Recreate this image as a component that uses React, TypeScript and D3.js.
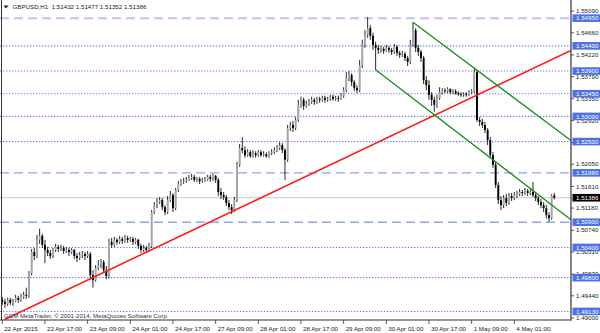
import React from "react";
import * as d3 from "d3";

// ---- data (GBPUSD H1, bar 0 = 22 Apr 2015 01:00) ----
const firstOpen = 1.4936;
const closes = [
  1.4932, 1.4928, 1.4936, 1.4930, 1.4934, 1.4940, 1.4936, 1.4942, 1.4946, 1.4944,
  1.4989, 1.5031, 1.5023, 1.5055, 1.5063, 1.5045, 1.5035, 1.5029, 1.5023, 1.5035,
  1.5041, 1.5037, 1.5039, 1.5033, 1.5035, 1.5031, 1.5035, 1.5023, 1.5019, 1.5025,
  1.5027, 1.5023, 1.5027, 1.4985, 1.4975, 1.4999, 1.5005, 1.5011, 1.4995, 1.4983,
  1.5051, 1.5045, 1.5055, 1.5051, 1.5057, 1.5053, 1.5059, 1.5055, 1.5057, 1.5051,
  1.5055, 1.5043, 1.5035, 1.5039, 1.5035, 1.5043, 1.5110, 1.5124, 1.5130, 1.5134,
  1.5120, 1.5110, 1.5134, 1.5144, 1.5118, 1.5154, 1.5166, 1.5170, 1.5172, 1.5174,
  1.5178, 1.5180, 1.5174, 1.5176, 1.5172, 1.5174, 1.5174, 1.5180, 1.5176, 1.5182,
  1.5174, 1.5150, 1.5144, 1.5140, 1.5128, 1.5120, 1.5114, 1.5134, 1.5204, 1.5237,
  1.5233, 1.5223, 1.5229, 1.5221, 1.5227, 1.5223, 1.5229, 1.5223, 1.5225, 1.5221,
  1.5227, 1.5229, 1.5233, 1.5237, 1.5243, 1.5233, 1.5214, 1.5277, 1.5283, 1.5277,
  1.5293, 1.5323, 1.5333, 1.5321, 1.5325, 1.5329, 1.5333, 1.5329, 1.5335, 1.5333,
  1.5337, 1.5333, 1.5335, 1.5339, 1.5335, 1.5337, 1.5335, 1.5341, 1.5352, 1.5376,
  1.5382, 1.5368, 1.5356, 1.5352, 1.5402, 1.5442, 1.5462, 1.5475, 1.5460, 1.5442,
  1.5436, 1.5432, 1.5434, 1.5430, 1.5436, 1.5432, 1.5428, 1.5438, 1.5426, 1.5422,
  1.5424, 1.5416, 1.5408, 1.5442, 1.5471, 1.5436, 1.5428, 1.5416, 1.5372, 1.5362,
  1.5343, 1.5333, 1.5323, 1.5337, 1.5348, 1.5352, 1.5350, 1.5354, 1.5348, 1.5350,
  1.5346, 1.5344, 1.5343, 1.5344, 1.5343, 1.5348, 1.5350, 1.5388, 1.5293, 1.5289,
  1.5283, 1.5273, 1.5253, 1.5223, 1.5204, 1.5164, 1.5134, 1.5124, 1.5138, 1.5128,
  1.5142, 1.5138, 1.5144, 1.5146, 1.5150, 1.5148, 1.5152, 1.5148, 1.5150, 1.5144,
  1.5138, 1.5130, 1.5124, 1.5118, 1.5104, 1.5098, 1.51432, 1.51386,
];
const highs = [
  1.4942, 1.4938, 1.4940, 1.4940, 1.4938, 1.4946, 1.4944, 1.4948, 1.4952, 1.4960,
  1.4993, 1.5037, 1.5039, 1.5065, 1.5077, 1.5067, 1.5055, 1.5041, 1.5035, 1.5039,
  1.5047, 1.5045, 1.5045, 1.5043, 1.5041, 1.5039, 1.5039, 1.5037, 1.5029, 1.5031,
  1.5033, 1.5031, 1.5033, 1.5031, 1.4995, 1.5005, 1.5015, 1.5017, 1.5015, 1.5003,
  1.5057, 1.5059, 1.5061, 1.5059, 1.5063, 1.5061, 1.5065, 1.5063, 1.5061, 1.5061,
  1.5059, 1.5057, 1.5047, 1.5045, 1.5043, 1.5049, 1.5114, 1.5130, 1.5138, 1.5140,
  1.5138, 1.5124, 1.5142, 1.5152, 1.5148, 1.5158, 1.5172, 1.5176, 1.5178, 1.5180,
  1.5184, 1.5186, 1.5184, 1.5180, 1.5180, 1.5178, 1.5180, 1.5184, 1.5184, 1.5186,
  1.5184, 1.5178, 1.5158, 1.5150, 1.5144, 1.5134, 1.5126, 1.5140, 1.5210, 1.5245,
  1.5259, 1.5241, 1.5235, 1.5233, 1.5233, 1.5231, 1.5233, 1.5233, 1.5231, 1.5229,
  1.5231, 1.5235, 1.5239, 1.5243, 1.5249, 1.5247, 1.5237, 1.5283, 1.5289, 1.5291,
  1.5299, 1.5333, 1.5339, 1.5337, 1.5331, 1.5335, 1.5339, 1.5337, 1.5339, 1.5339,
  1.5341, 1.5341, 1.5339, 1.5343, 1.5343, 1.5341, 1.5341, 1.5346, 1.5358, 1.5388,
  1.5390, 1.5386, 1.5372, 1.5362, 1.5412, 1.5452, 1.5471, 1.5497, 1.5481, 1.5466,
  1.5448, 1.5442, 1.5440, 1.5438, 1.5442, 1.5440, 1.5436, 1.5444, 1.5442, 1.5430,
  1.5430, 1.5428, 1.5420, 1.5452, 1.5487, 1.5475, 1.5442, 1.5432, 1.5420, 1.5380,
  1.5372, 1.5348, 1.5339, 1.5343, 1.5358, 1.5356, 1.5356, 1.5358, 1.5356, 1.5354,
  1.5354, 1.5350, 1.5348, 1.5348, 1.5348, 1.5352, 1.5354, 1.5396, 1.5392, 1.5299,
  1.5295, 1.5289, 1.5277, 1.5259, 1.5229, 1.5210, 1.5170, 1.5142, 1.5144, 1.5146,
  1.5148, 1.5148, 1.5150, 1.5152, 1.5156, 1.5154, 1.5158, 1.5156, 1.5156, 1.5170,
  1.5148, 1.5142, 1.5136, 1.5130, 1.5124, 1.5110, 1.5146, 1.51477,
];
const lows = [
  1.4926, 1.4920, 1.4924, 1.4926, 1.4924, 1.4932, 1.4930, 1.4932, 1.4938, 1.4938,
  1.4940, 1.4985, 1.5015, 1.5019, 1.5047, 1.5039, 1.5009, 1.5023, 1.5017, 1.5019,
  1.5031, 1.5031, 1.5033, 1.5027, 1.5029, 1.5023, 1.5027, 1.5017, 1.5011, 1.5015,
  1.5019, 1.5015, 1.5019, 1.4979, 1.4960, 1.4972, 1.4995, 1.4999, 1.4989, 1.4977,
  1.4979, 1.5039, 1.5041, 1.5045, 1.5047, 1.5047, 1.5049, 1.5049, 1.5051, 1.5045,
  1.5047, 1.5037, 1.5029, 1.5031, 1.5029, 1.5031, 1.5039, 1.5106, 1.5118, 1.5126,
  1.5114, 1.5104, 1.5106, 1.5130, 1.5110, 1.5114, 1.5150, 1.5162, 1.5166, 1.5168,
  1.5172, 1.5174, 1.5170, 1.5170, 1.5166, 1.5168, 1.5170, 1.5172, 1.5170, 1.5172,
  1.5168, 1.5142, 1.5136, 1.5134, 1.5122, 1.5114, 1.5106, 1.5110, 1.5130, 1.5200,
  1.5227, 1.5218, 1.5220, 1.5218, 1.5218, 1.5218, 1.5220, 1.5220, 1.5220, 1.5218,
  1.5218, 1.5223, 1.5225, 1.5229, 1.5233, 1.5227, 1.5174, 1.5210, 1.5271, 1.5269,
  1.5273, 1.5289, 1.5317, 1.5313, 1.5317, 1.5321, 1.5325, 1.5323, 1.5325, 1.5327,
  1.5329, 1.5327, 1.5329, 1.5331, 1.5331, 1.5331, 1.5329, 1.5333, 1.5337, 1.5348,
  1.5370, 1.5360, 1.5350, 1.5346, 1.5348, 1.5396, 1.5436, 1.5456, 1.5452, 1.5432,
  1.5392, 1.5424, 1.5426, 1.5424, 1.5428, 1.5426, 1.5422, 1.5424, 1.5420, 1.5416,
  1.5418, 1.5410, 1.5400, 1.5404, 1.5438, 1.5428, 1.5420, 1.5408, 1.5364, 1.5352,
  1.5333, 1.5321, 1.5309, 1.5317, 1.5333, 1.5344, 1.5346, 1.5346, 1.5344, 1.5344,
  1.5343, 1.5341, 1.5339, 1.5339, 1.5339, 1.5341, 1.5344, 1.5346, 1.5289, 1.5281,
  1.5277, 1.5267, 1.5243, 1.5218, 1.5198, 1.5158, 1.5126, 1.5114, 1.5118, 1.5122,
  1.5124, 1.5132, 1.5134, 1.5138, 1.5142, 1.5142, 1.5144, 1.5142, 1.5144, 1.5140,
  1.5132, 1.5124, 1.5118, 1.5110, 1.5097, 1.5091, 1.5095, 1.51352,
];

const timeLabels = [
  "22 Apr 2015", "22 Apr 17:00", "23 Apr 09:00", "24 Apr 01:00", "24 Apr 17:00",
  "27 Apr 09:00", "28 Apr 01:00", "28 Apr 17:00", "29 Apr 09:00", "30 Apr 01:00",
  "30 Apr 17:00", "1 May 09:00", "4 May 01:00",
];
const timeLabelStep = 16; // bars between labels

const priceTicks = [
  1.4900, 1.4944, 1.4987, 1.5031, 1.5074, 1.5118, 1.5161, 1.5205, 1.5248,
  1.5292, 1.5335, 1.5379, 1.5422, 1.5466, 1.5509,
];

const hLinePrices = [1.5495, 1.5440, 1.5390, 1.5345, 1.5300, 1.5250, 1.5188, 1.5090, 1.5040, 1.4980, 1.4913];
const hLineStyles = ["long", "dot", "dot", "dot", "dot", "dot", "dash", "dash", "dot", "dot", "dot"];

const currentPrice = 1.51386;
const headerText = "GBPUSD,H1  1.51432 1.51477 1.51352 1.51386";
const footerText = "GCM MetaTrader, \u00A9 2001-2014, MetaQuotes Software Corp.";

// trend lines: [barIndex, price] anchors
const redTrend = [[0.9, 1.4897], [213.25, 1.5431]];
const greenUpper = [[154, 1.5487], [213.25, 1.5252]];
const greenLower = [[140.1, 1.5392], [213.25, 1.5095]];

const W = 600, H = 333;
const plotRight = 571, plotBottom = 320;
const FONT = "'Liberation Sans', Arial, sans-serif";

export default function App() {
  const x = d3.scaleLinear().domain([0, 192]).range([2.3, 514.3]);
  const y = d3.scaleLinear().domain([1.4896, 1.5531]).range([320, 0]);
  const bodyW = 1.9;

  const bars = closes.map((c, i) => {
    const o = i === 0 ? firstOpen : closes[i - 1];
    const h = Math.max(highs[i], o, c);
    const l = Math.min(lows[i], o, c);
    return { i, o, h, l, c };
  });

  const line = d3.line<number[]>().x((d) => x(d[0])).y((d) => y(d[1]));

  const lineStyle = (s: string) => {
    if (s === "long") return { stroke: "#b9c8f3", dash: "9,5", w: 2 };
    if (s === "dash") return { stroke: "#8ea5ee", dash: "9,5", w: 1.4 };
    return { stroke: "#6f89e6", dash: "1.4,1.6", w: 1.1 };
  };

  return (
    <svg width={W} height={H} style={{ position: "absolute", left: 0, top: 0, background: "#fff" }}
      fontFamily={FONT}>
      <rect x={0} y={0} width={W} height={H} fill="#fff" />
      <defs>
        <clipPath id="plot">
          <rect x={0} y={0} width={plotRight} height={plotBottom} />
        </clipPath>
      </defs>
      <g clipPath="url(#plot)">
        {hLinePrices.map((p, k) => {
          const st = lineStyle(hLineStyles[k]);
          return (
            <line key={k} x1={0} x2={plotRight} y1={y(p)} y2={y(p)} stroke={st.stroke}
              strokeWidth={st.w} strokeDasharray={st.dash} />
          );
        })}
        <line x1={0} x2={plotRight} y1={y(currentPrice)} y2={y(currentPrice)} stroke="#c9c9c9" strokeWidth={1} />
        {bars.map((b) => {
          const up = b.c >= b.o;
          const top = y(Math.max(b.o, b.c));
          const bot = y(Math.min(b.o, b.c));
          return (
            <g key={b.i}>
              <line x1={x(b.i)} x2={x(b.i)} y1={y(b.h)} y2={y(b.l)} stroke="#111" strokeWidth={0.9} />
              <rect x={x(b.i) - bodyW / 2} y={top} width={bodyW} height={Math.max(0.8, bot - top)}
                fill={up ? "#a6a6a6" : "#000"} />
            </g>
          );
        })}
        <path d={line(redTrend) || ""} stroke="#ff1a1a" strokeWidth={1.6} fill="none" />
        <path d={line(greenUpper) || ""} stroke="#1f8a1f" strokeWidth={1.3} fill="none" />
        <path d={line(greenLower) || ""} stroke="#1f8a1f" strokeWidth={1.3} fill="none" />
      </g>

      {/* frame */}
      <line x1={1.5} x2={1.5} y1={0} y2={plotBottom} stroke="#333" strokeWidth={1} />
      <line x1={plotRight} x2={plotRight} y1={0} y2={plotBottom + 0.5} stroke="#333" strokeWidth={1.2} />
      <line x1={0} x2={plotRight} y1={plotBottom} y2={plotBottom} stroke="#333" strokeWidth={1.2} />

      {/* header */}
      <path d="M3.5,5.5 L8.5,5.5 L6,8.5 Z" fill="#222" />
      <text x={12.5} y={9.2} fontSize={6.2} fill="#222" style={{ whiteSpace: "pre" }}>{headerText}</text>
      {/* footer */}
      <text x={4} y={318.2} fontSize={6.1} fill="#333">{footerText}</text>

      {/* price ticks */}
      {priceTicks.map((p, k) => (
        <g key={k}>
          <line x1={plotRight} x2={plotRight + 3} y1={y(p)} y2={y(p)} stroke="#333" strokeWidth={0.8} />
          <text x={576} y={y(p) + 2.2} fontSize={6.2} fill="#222">{p.toFixed(5)}</text>
        </g>
      ))}
      {/* horizontal line labels */}
      {hLinePrices.map((p, k) => (
        <g key={k}>
          <rect x={572.5} y={y(p) - 3.8} width={28} height={7.6} fill="#4c72e3" />
          <text x={576} y={y(p) + 2.2} fontSize={6.2} fill="#fff">{p.toFixed(5)}</text>
        </g>
      ))}
      <rect x={572.5} y={y(currentPrice) - 3.8} width={28} height={7.6} fill="#000" />
      <text x={576} y={y(currentPrice) + 2.2} fontSize={6.2} fill="#fff">{currentPrice.toFixed(5)}</text>

      {/* time axis */}
      {timeLabels.map((t, k) => {
        const xi = x(k * timeLabelStep);
        return (
          <g key={k}>
            <line x1={xi} x2={xi} y1={plotBottom} y2={plotBottom + 4} stroke="#333" strokeWidth={0.8} />
            <text x={xi + 2} y={330.5} fontSize={6.2} fill="#222">{t}</text>
          </g>
        );
      })}
    </svg>
  );
}
